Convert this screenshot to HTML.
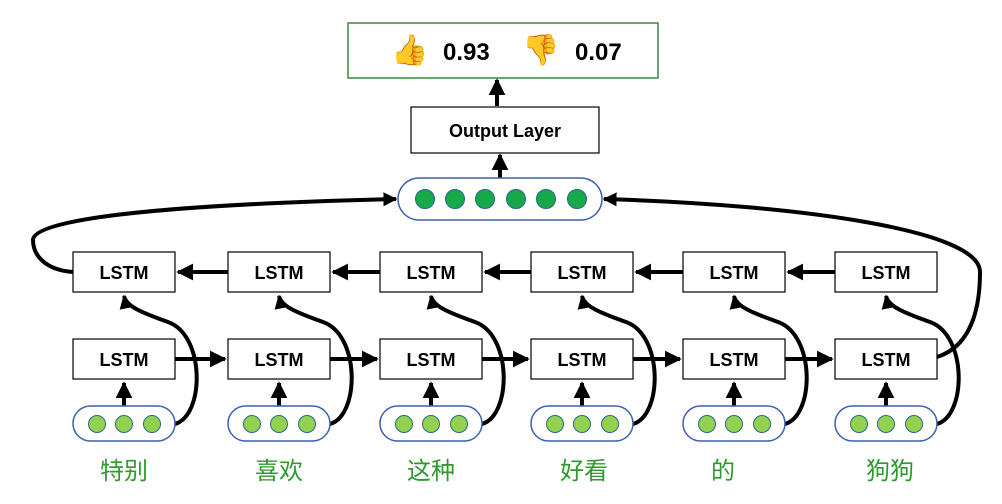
<!DOCTYPE html>
<html><head><meta charset="utf-8"><style>
html,body{margin:0;padding:0;background:#fff;}
svg text{font-family:"Liberation Sans","Noto Sans CJK SC",sans-serif;}
</style></head><body>
<svg width="1002" height="499" viewBox="0 0 1002 499" xmlns="http://www.w3.org/2000/svg">
<defs>
<marker id="a" viewBox="0 0 10 10" refX="9" refY="5" markerWidth="4.2" markerHeight="4.2" orient="auto" markerUnits="strokeWidth"><path d="M0,0 L10,5 L0,10 z" fill="#000"/></marker>
<marker id="b" viewBox="0 0 10 10" refX="9" refY="5" markerWidth="3.5" markerHeight="3.5" orient="auto" markerUnits="strokeWidth"><path d="M0,0 L10,5 L0,10 z" fill="#000"/></marker>
</defs>
<!-- top result box -->
<rect x="348" y="23" width="310" height="55" fill="#fff" stroke="#3a8a3a" stroke-width="1.5"/>
<text x="410" y="60" font-size="30" text-anchor="middle">👍</text>
<text x="443" y="60" font-size="24" font-weight="bold">0.93</text>
<text x="541" y="60" font-size="30" text-anchor="middle">👎</text>
<text x="575" y="60" font-size="24" font-weight="bold">0.07</text>
<line x1="497" y1="106" x2="497" y2="80" stroke="#000" stroke-width="4" marker-end="url(#a)"/>
<rect x="411" y="107" width="188" height="46" fill="#fff" stroke="#000" stroke-width="1.2"/>
<text x="505" y="137" font-size="18" font-weight="bold" text-anchor="middle">Output Layer</text>
<line x1="500" y1="178" x2="500" y2="155" stroke="#000" stroke-width="4" marker-end="url(#a)"/>
<rect x="398" y="178" width="204" height="42" rx="21" fill="#fff" stroke="#3b5fb0" stroke-width="1.5"/>
<g fill="#17a84a" stroke="#2a6a8a" stroke-width="1">
<circle cx="425" cy="199" r="9.5"/><circle cx="455" cy="199" r="9.5"/><circle cx="485" cy="199" r="9.5"/><circle cx="516" cy="199" r="9.5"/><circle cx="546" cy="199" r="9.5"/><circle cx="577" cy="199" r="9.5"/>
</g>
<!-- big curves -->
<path d="M73,272 C45,270 33,255 33,240 C33,220 150,205 396,199" fill="none" stroke="#000" stroke-width="4" marker-end="url(#b)"/>
<path d="M937,357 C975,345 980,300 980,272 C980,230 800,205 604,199" fill="none" stroke="#000" stroke-width="4" marker-end="url(#b)"/>
<!-- horizontal arrows -->
<g stroke="#000" stroke-width="4" fill="none">
<line x1="228" y1="272" x2="178" y2="272" marker-end="url(#a)"/>
<line x1="380" y1="272" x2="333" y2="272" marker-end="url(#a)"/>
<line x1="531" y1="272" x2="485" y2="272" marker-end="url(#a)"/>
<line x1="683" y1="272" x2="636" y2="272" marker-end="url(#a)"/>
<line x1="835" y1="272" x2="788" y2="272" marker-end="url(#a)"/>
<line x1="175" y1="359" x2="225" y2="359" marker-end="url(#a)"/>
<line x1="330" y1="359" x2="377" y2="359" marker-end="url(#a)"/>
<line x1="482" y1="359" x2="528" y2="359" marker-end="url(#a)"/>
<line x1="633" y1="359" x2="680" y2="359" marker-end="url(#a)"/>
<line x1="785" y1="359" x2="832" y2="359" marker-end="url(#a)"/>
</g>
<!-- columns -->
<g id="cols">
</g>
<g stroke="#000" stroke-width="4" fill="none">
<path d="M175,424 C205,415 205,335 168,322 C140,312 126,306 124,296" marker-end="url(#b)"/>
<path d="M330,424 C360,415 360,335 323,322 C295,312 281,306 279,296" marker-end="url(#b)"/>
<path d="M482,424 C512,415 512,335 475,322 C447,312 433,306 431,296" marker-end="url(#b)"/>
<path d="M633,424 C663,415 663,335 626,322 C598,312 584,306 582,296" marker-end="url(#b)"/>
<path d="M785,424 C815,415 815,335 778,322 C750,312 736,306 734,296" marker-end="url(#b)"/>
<path d="M937,424 C967,415 967,335 930,322 C902,312 888,306 886,296" marker-end="url(#b)"/>
<line x1="124" y1="406" x2="124" y2="383" marker-end="url(#a)"/>
<line x1="279" y1="406" x2="279" y2="383" marker-end="url(#a)"/>
<line x1="431" y1="406" x2="431" y2="383" marker-end="url(#a)"/>
<line x1="582" y1="406" x2="582" y2="383" marker-end="url(#a)"/>
<line x1="734" y1="406" x2="734" y2="383" marker-end="url(#a)"/>
<line x1="886" y1="406" x2="886" y2="383" marker-end="url(#a)"/>
</g>
<g fill="#fff" stroke="#000" stroke-width="1.2">
<rect x="73" y="252" width="102" height="40"/><rect x="228" y="252" width="102" height="40"/><rect x="380" y="252" width="102" height="40"/><rect x="531" y="252" width="102" height="40"/><rect x="683" y="252" width="102" height="40"/><rect x="835" y="252" width="102" height="40"/>
<rect x="73" y="339" width="102" height="40"/><rect x="228" y="339" width="102" height="40"/><rect x="380" y="339" width="102" height="40"/><rect x="531" y="339" width="102" height="40"/><rect x="683" y="339" width="102" height="40"/><rect x="835" y="339" width="102" height="40"/>
</g>
<g font-size="18" font-weight="bold" text-anchor="middle">
<text x="124" y="279">LSTM</text><text x="279" y="279">LSTM</text><text x="431" y="279">LSTM</text><text x="582" y="279">LSTM</text><text x="734" y="279">LSTM</text><text x="886" y="279">LSTM</text>
<text x="124" y="366">LSTM</text><text x="279" y="366">LSTM</text><text x="431" y="366">LSTM</text><text x="582" y="366">LSTM</text><text x="734" y="366">LSTM</text><text x="886" y="366">LSTM</text>
</g>
<g fill="#fff" stroke="#3b5fb0" stroke-width="1.5">
<rect x="73" y="406" width="102" height="35" rx="17.5"/><rect x="228" y="406" width="102" height="35" rx="17.5"/><rect x="380" y="406" width="102" height="35" rx="17.5"/><rect x="531" y="406" width="102" height="35" rx="17.5"/><rect x="683" y="406" width="102" height="35" rx="17.5"/><rect x="835" y="406" width="102" height="35" rx="17.5"/>
</g>
<g fill="#92d050" stroke="#2a6a8a" stroke-width="1">
<circle cx="97" cy="424" r="8.5"/><circle cx="124" cy="424" r="8.5"/><circle cx="152" cy="424" r="8.5"/>
<circle cx="252" cy="424" r="8.5"/><circle cx="279" cy="424" r="8.5"/><circle cx="307" cy="424" r="8.5"/>
<circle cx="404" cy="424" r="8.5"/><circle cx="431" cy="424" r="8.5"/><circle cx="459" cy="424" r="8.5"/>
<circle cx="555" cy="424" r="8.5"/><circle cx="582" cy="424" r="8.5"/><circle cx="610" cy="424" r="8.5"/>
<circle cx="707" cy="424" r="8.5"/><circle cx="734" cy="424" r="8.5"/><circle cx="762" cy="424" r="8.5"/>
<circle cx="859" cy="424" r="8.5"/><circle cx="886" cy="424" r="8.5"/><circle cx="914" cy="424" r="8.5"/>
</g>
<g font-size="24" fill="#2e9a2e" text-anchor="middle">
<text x="124" y="479">特别</text><text x="279" y="479">喜欢</text><text x="431" y="479">这种</text><text x="584" y="479">好看</text><text x="723" y="479">的</text><text x="890" y="479">狗狗</text>
</g>
</svg>
</body></html>
